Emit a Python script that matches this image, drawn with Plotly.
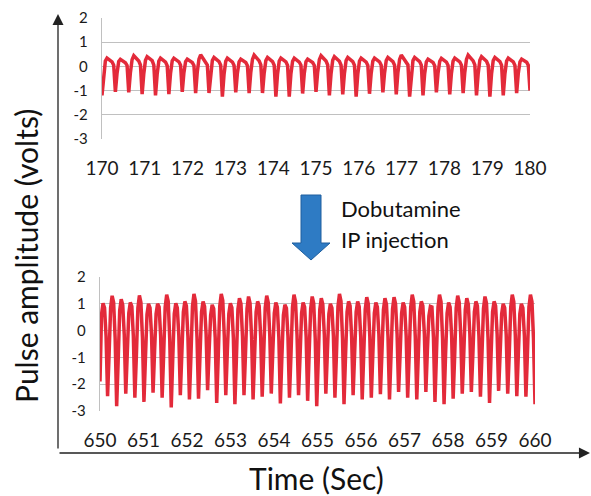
import numpy as np
import plotly.graph_objects as go

W, H = 591, 496

# ---------------- data ----------------
top_start, top_end = 170, 180
# pulse samples before injection (8 samples per beat, 32 beats + final point)
top_values = [
    -1.20, -0.30, 0.22, 0.34, 0.28, 0.22, 0.19, 0.05,
    -1.05, -0.28, 0.20, 0.29, 0.24, 0.18, 0.15, 0.04,
    -1.07, -0.25, 0.28, 0.44, 0.36, 0.28, 0.22, 0.06,
    -1.15, -0.30, 0.25, 0.40, 0.34, 0.27, 0.24, 0.05,
    -1.20, -0.32, 0.22, 0.34, 0.29, 0.23, 0.18, 0.03,
    -1.15, -0.28, 0.23, 0.34, 0.28, 0.21, 0.19, 0.05,
    -1.05, -0.26, 0.20, 0.30, 0.26, 0.20, 0.16, 0.04,
    -1.10, -0.22, 0.30, 0.48, 0.38, 0.29, 0.22, 0.06,
    -1.10, -0.29, 0.24, 0.37, 0.31, 0.24, 0.20, 0.05,
    -1.25, -0.33, 0.21, 0.34, 0.29, 0.22, 0.18, 0.04,
    -1.07, -0.27, 0.19, 0.30, 0.25, 0.19, 0.16, 0.03,
    -1.10, -0.24, 0.29, 0.47, 0.37, 0.28, 0.23, 0.06,
    -1.10, -0.28, 0.24, 0.37, 0.31, 0.25, 0.20, 0.05,
    -1.25, -0.31, 0.22, 0.34, 0.28, 0.22, 0.19, 0.04,
    -1.25, -0.30, 0.21, 0.34, 0.29, 0.23, 0.18, 0.05,
    -1.12, -0.28, 0.20, 0.30, 0.26, 0.20, 0.16, 0.04,
    -1.05, -0.24, 0.28, 0.44, 0.36, 0.27, 0.22, 0.06,
    -1.20, -0.30, 0.25, 0.40, 0.33, 0.26, 0.21, 0.05,
    -1.16, -0.29, 0.24, 0.37, 0.31, 0.24, 0.20, 0.05,
    -1.25, -0.32, 0.22, 0.34, 0.28, 0.22, 0.18, 0.04,
    -1.13, -0.29, 0.22, 0.34, 0.29, 0.23, 0.19, 0.05,
    -1.07, -0.27, 0.24, 0.37, 0.31, 0.24, 0.20, 0.05,
    -1.16, -0.25, 0.29, 0.47, 0.37, 0.28, 0.22, 0.06,
    -1.25, -0.31, 0.24, 0.37, 0.31, 0.25, 0.20, 0.05,
    -1.20, -0.30, 0.19, 0.30, 0.25, 0.19, 0.16, 0.03,
    -1.07, -0.27, 0.21, 0.33, 0.28, 0.22, 0.18, 0.04,
    -1.16, -0.29, 0.22, 0.34, 0.29, 0.23, 0.19, 0.05,
    -1.10, -0.24, 0.29, 0.47, 0.38, 0.29, 0.23, 0.06,
    -1.20, -0.30, 0.25, 0.40, 0.33, 0.26, 0.21, 0.05,
    -1.25, -0.31, 0.24, 0.37, 0.31, 0.24, 0.20, 0.05,
    -1.20, -0.30, 0.22, 0.34, 0.28, 0.22, 0.19, 0.04,
    -1.10, -0.28, 0.19, 0.30, 0.26, 0.20, 0.17, 0.04,
    -1.00,
]
top_time = np.linspace(top_start, top_end, len(top_values))

bot_start, bot_end = 650, 660
# pulse samples after dobutamine (6 samples per beat, 48 beats)
bot_values = [
    -1.90, 0.60, 1.02, 0.85, -0.20, -2.45,
    -0.90, 0.85, 1.30, 1.05, -0.30, -2.82,
    -1.10, 0.75, 1.17, 0.95, -0.15, -2.35,
    -0.85, 0.65, 1.05, 0.90, -0.20, -2.50,
    -0.95, 0.85, 1.31, 1.05, -0.25, -2.66,
    -1.00, 0.60, 1.00, 0.85, -0.15, -2.32,
    -0.80, 0.62, 1.00, 0.88, -0.20, -2.50,
    -0.90, 0.88, 1.34, 1.10, -0.30, -2.87,
    -1.05, 0.62, 1.02, 0.85, -0.18, -2.41,
    -0.85, 0.70, 1.09, 0.92, -0.22, -2.57,
    -0.95, 0.90, 1.37, 1.10, -0.25, -2.54,
    -0.90, 0.70, 1.09, 0.90, -0.12, -2.22,
    -0.75, 0.58, 0.96, 0.82, -0.25, -2.70,
    -1.00, 0.90, 1.37, 1.12, -0.20, -2.41,
    -0.80, 0.62, 1.02, 0.86, -0.28, -2.75,
    -1.05, 0.80, 1.21, 1.00, -0.20, -2.41,
    -0.85, 0.82, 1.27, 1.02, -0.22, -2.57,
    -0.95, 0.70, 1.09, 0.92, -0.20, -2.47,
    -0.90, 0.85, 1.30, 1.05, -0.15, -2.35,
    -0.80, 0.65, 1.05, 0.88, -0.25, -2.72,
    -1.00, 0.58, 0.96, 0.84, -0.20, -2.50,
    -0.90, 0.88, 1.34, 1.08, -0.18, -2.41,
    -0.95, 0.65, 1.05, 0.88, -0.22, -2.62,
    -0.85, 0.82, 1.27, 1.02, -0.30, -2.82,
    -1.10, 0.78, 1.21, 0.98, -0.15, -2.35,
    -0.85, 0.62, 1.00, 0.85, -0.20, -2.50,
    -0.90, 0.90, 1.37, 1.10, -0.28, -2.75,
    -0.95, 0.70, 1.09, 0.92, -0.20, -2.41,
    -0.85, 0.70, 1.09, 0.90, -0.22, -2.57,
    -0.90, 0.80, 1.25, 1.00, -0.20, -2.50,
    -0.90, 0.65, 1.05, 0.88, -0.15, -2.37,
    -0.85, 0.78, 1.21, 0.98, -0.22, -2.57,
    -0.95, 0.80, 1.25, 1.00, -0.12, -2.29,
    -0.90, 0.65, 1.05, 0.88, -0.20, -2.50,
    -0.90, 0.88, 1.34, 1.08, -0.22, -2.57,
    -0.95, 0.70, 1.09, 0.92, -0.12, -2.29,
    -0.75, 0.55, 0.90, 0.88, -0.25, -2.66,
    -0.85, 0.88, 1.34, 1.08, -0.28, -2.75,
    -0.90, 0.65, 1.05, 0.88, -0.20, -2.54,
    -0.95, 0.85, 1.30, 1.05, -0.15, -2.35,
    -0.90, 0.78, 1.21, 0.98, -0.12, -2.29,
    -0.90, 0.70, 1.09, 0.92, -0.20, -2.47,
    -0.90, 0.82, 1.27, 1.02, -0.25, -2.70,
    -0.95, 0.70, 1.09, 0.92, -0.12, -2.25,
    -0.85, 0.62, 1.00, 0.85, -0.15, -2.35,
    -0.90, 0.88, 1.34, 1.08, -0.18, -2.45,
    -0.90, 0.62, 1.00, 0.85, -0.20, -2.47,
    -0.90, 0.88, 1.34, 1.08, -0.28, -2.75,
]
bot_time = np.linspace(bot_start, bot_end, len(bot_values))

top_ticks = [170, 171, 172, 173, 174, 175, 176, 177, 178, 179, 180]
bot_ticks = [650, 651, 652, 653, 654, 655, 656, 657, 658, 659, 660]
y_ticks = [-3, -2, -1, 0, 1, 2]

y_title = "Pulse amplitude (volts)"
x_title = "Time (Sec)"
note_lines = ["Dobutamine", "IP injection"]

# ---------------- styling ----------------
FONT = "Lato"
RED = "#E32A3A"
GRID = "#C0C0C0"
TXT = "#1a1a1a"


def px(x):
    return x / W


def py(y):
    return 1 - y / H


fig = go.Figure()
fig.add_trace(go.Scatter(x=top_time, y=top_values, mode="lines",
                         line=dict(color=RED, width=3.5), xaxis="x", yaxis="y",
                         hoverinfo="skip"))
fig.add_trace(go.Scatter(x=bot_time, y=bot_values, mode="lines",
                         line=dict(color=RED, width=3.5), xaxis="x2", yaxis="y2",
                         hoverinfo="skip"))


def xax(domain, ticks):
    return dict(domain=domain, range=[ticks[0], ticks[-1]], tickvals=ticks,
                ticktext=[str(t) for t in ticks], showgrid=False, zeroline=False,
                showline=False, ticks="", tickfont=dict(family=FONT, size=19, color=TXT),
                ticklabelstandoff=16, fixedrange=True, automargin=False)


def yax(domain, anchor):
    return dict(domain=domain, range=[-3, 2], tickvals=y_ticks,
                ticktext=[str(t) for t in y_ticks], showgrid=True, gridcolor=GRID,
                gridwidth=1.4, zeroline=False, showline=True, linecolor=GRID,
                linewidth=1.4, ticks="", anchor=anchor,
                tickfont=dict(family=FONT, size=15, color=TXT),
                ticklabelstandoff=10, fixedrange=True, automargin=False)


fig.update_layout(
    width=W, height=H, margin=dict(l=0, r=0, t=0, b=0, autoexpand=False),
    paper_bgcolor="white", plot_bgcolor="white", showlegend=False,
    xaxis=dict(xax([px(102), px(530)], top_ticks), anchor="y"),
    yaxis=yax([py(139), py(18)], "x"),
    xaxis2=dict(xax([px(100), px(535)], bot_ticks), anchor="y2"),
    yaxis2=yax([py(411), py(277)], "x2"),
)

annotations = [
    # vertical big axis arrow
    dict(x=px(58), y=py(14), xref="paper", yref="paper", ax=0, ay=436,
         showarrow=True, arrowhead=2, arrowsize=1.7, arrowwidth=1.3,
         arrowcolor="#222", text=""),
    # horizontal big axis arrow
    dict(x=px(590), y=py(453), xref="paper", yref="paper", ax=-532, ay=0,
         showarrow=True, arrowhead=2, arrowsize=1.7, arrowwidth=1.3,
         arrowcolor="#222", text=""),
    dict(x=px(26), y=py(256), xref="paper", yref="paper", text=y_title,
         xanchor="center", yanchor="middle",
         textangle=-90, showarrow=False, font=dict(family=FONT, size=30, color="#111")),
    dict(x=px(316), y=py(478), xref="paper", yref="paper", text=x_title,
         xanchor="center", yanchor="middle",
         showarrow=False, font=dict(family=FONT, size=30, color="#111")),
    dict(x=px(339), y=py(208), xref="paper", yref="paper", text=note_lines[0],
         xanchor="left", yanchor="middle", showarrow=False,
         font=dict(family=FONT, size=22, color="#111")),
    dict(x=px(339), y=py(239), xref="paper", yref="paper", text=note_lines[1],
         xanchor="left", yanchor="middle", showarrow=False,
         font=dict(family=FONT, size=22, color="#111")),
]
fig.update_layout(annotations=annotations)

# blue block arrow (decoration)
pts = [(301, 195), (321, 195), (321, 243), (330, 243), (311, 260), (292, 243), (301, 243)]
path = "M " + " L ".join(f"{px(a):.5f},{py(b):.5f}" for a, b in pts) + " Z"
fig.add_shape(type="path", path=path, xref="paper", yref="paper",
              fillcolor="#2E7BC4", line=dict(color="#1F5F9E", width=1))

fig.write_html("out.html")
